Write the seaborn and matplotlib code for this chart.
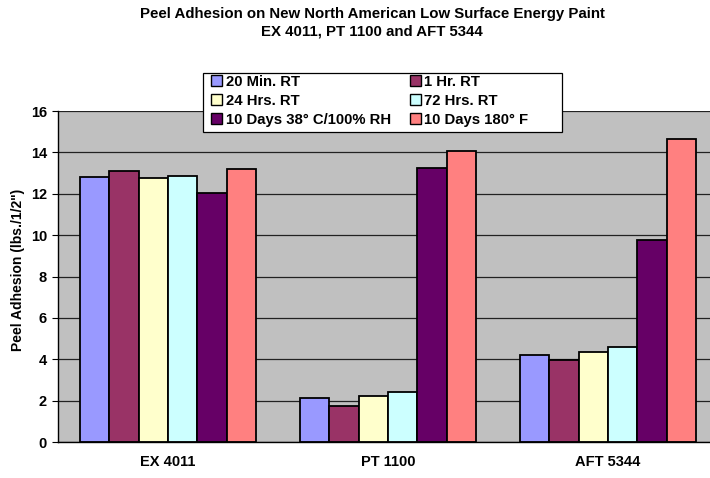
import matplotlib
matplotlib.use("Agg")
import matplotlib.pyplot as plt
import seaborn as sns
import pandas as pd
from matplotlib.patches import Patch, Rectangle

panels = ["EX 4011", "PT 1100", "AFT 5344"]
conditions = ["20 Min. RT", "1 Hr. RT", "24 Hrs. RT", "72 Hrs. RT",
              "10 Days 38° C/100% RH", "10 Days 180° F"]
values_20min = [12.8, 2.15, 4.2]
values_1hr = [13.1, 1.75, 3.95]
values_24hrs = [12.75, 2.22, 4.35]
values_72hrs = [12.85, 2.4, 4.6]
values_38c = [12.05, 13.25, 9.75]
values_180f = [13.18, 14.07, 14.65]
colors = ["#9999FF", "#993366", "#FFFFCC", "#CCFFFF", "#660066", "#FF8080"]
yticks = [0, 2, 4, 6, 8, 10, 12, 14, 16]

series = [values_20min, values_1hr, values_24hrs, values_72hrs, values_38c, values_180f]
rows = []
for cond, vals in zip(conditions, series):
    for p, v in zip(panels, vals):
        rows.append({"Panel": p, "Condition": cond, "Value": v})
df = pd.DataFrame(rows)

sns.set_theme(style="white")
plt.rcParams["font.family"] = ["Liberation Sans", "DejaVu Sans"]
for k in ["text.color", "axes.labelcolor", "xtick.color", "ytick.color"]:
    plt.rcParams[k] = "black"

W, H = 710, 478
fig = plt.figure(figsize=(W / 100, H / 100), dpi=100)
# plot area: x 58..718 px (right part beyond image), y 111..442 px
ax = fig.add_axes([58 / W, 1 - 442 / H, (718 - 58) / W, (442 - 111) / H])
ax.set_facecolor("#C0C0C0")

sns.barplot(data=df, x="Panel", y="Value", hue="Condition", order=panels,
            hue_order=conditions, palette=colors, edgecolor="black",
            linewidth=1.3, width=0.8, ax=ax, legend=False, saturation=1)

ax.set_ylim(0, 16)
ax.set_xlim(-0.5, 2.5)
ax.set_yticks(yticks)
ax.set_yticklabels([str(t) for t in yticks], fontsize=10.5, fontweight="bold")
ax.set_xticks(range(len(panels)))
ax.set_xticklabels(panels, fontsize=10.5, fontweight="bold")
ax.set_xticks([-0.5, 0.5, 1.5, 2.5], minor=True)
ax.tick_params(axis="x", which="major", length=0, pad=9)
ax.tick_params(axis="x", which="minor", length=4, width=0.8, color="black", direction="out")
ax.tick_params(axis="y", length=4, width=0.8, color="black", direction="out", left=True, pad=4)
ax.yaxis.grid(True, color="#222222", linewidth=0.9)
ax.set_axisbelow(True)
for s in ["top", "right"]:
    ax.spines[s].set_visible(False)
for s in ["left", "bottom"]:
    ax.spines[s].set_color("black")
    ax.spines[s].set_linewidth(1.0)
ax.set_xlabel("")
ax.set_ylabel('Peel Adhesion (lbs./1/2")', fontsize=10, fontweight="bold", va="center")
ax.yaxis.set_label_coords((18 - 58) / 660, (442 - 270) / 331)

fig.text(372 / W, 1 - 18 / H, "Peel Adhesion on New North American Low Surface Energy Paint",
         ha="center", va="baseline", fontsize=10.8, fontweight="bold")
fig.text(372 / W, 1 - 36 / H, "EX 4011, PT 1100 and AFT 5344",
         ha="center", va="baseline", fontsize=10.8, fontweight="bold")

# legend frame
fig.add_artist(Rectangle((203 / W, 1 - 132 / H), (562 - 203) / W, (132 - 73) / H,
                         transform=fig.transFigure, facecolor="white",
                         edgecolor="black", linewidth=0.9, zorder=5))
handles = [Patch(facecolor=c, edgecolor="black", linewidth=1.0) for c in colors]
order = [0, 2, 4, 1, 3, 5]
leg = fig.legend([handles[i] for i in order], [conditions[i] for i in order],
                 ncol=2, loc="upper left",
                 bbox_to_anchor=(211 / W, 1 - 75 / H), frameon=False,
                 prop={"weight": "bold", "size": 10.7},
                 handlelength=0.75, handleheight=0.75, handletextpad=0.25,
                 columnspacing=1.25, labelspacing=0.33, borderpad=0,
                 borderaxespad=0)
leg.set_zorder(6)

fig.savefig("out.png", dpi=100)
